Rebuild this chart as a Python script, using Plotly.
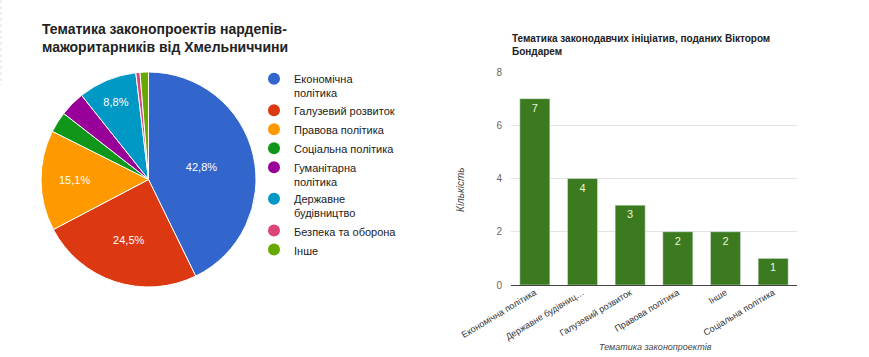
import plotly.graph_objects as go

# Pie data (counts)
pie_labels = ["Економічна<br>політика", "Галузевий розвиток", "Правова політика",
              "Соціальна політика", "Гуманітарна<br>політика", "Державне<br>будівництво",
              "Безпека та оборона", "Інше"]
pie_values = [68, 39, 24, 5, 6, 14, 1, 2]
pie_colors = ["#3366cc", "#dc3912", "#ff9900", "#109618", "#990099", "#0099c6", "#dd4477", "#66aa00"]
pie_show_label = [True, True, True, False, False, True, False, False]

# Bar data
bar_categories = ["Економічна політика", "Державне будівництво", "Галузевий розвиток",
                  "Правова політика", "Інше", "Соціальна політика"]
bar_ticklabels = ["Економічна політика", "Державне будівниц…", "Галузевий розвиток",
                  "Правова політика", "Інше", "Соціальна політика"]
bar_values = [7, 4, 3, 2, 2, 1]

W, H = 869, 357
FONT = "Arial, Liberation Sans, sans-serif"

def px(x):
    return x / W

def py(y):
    return (H - y) / H

fig = go.Figure()

fig.add_trace(go.Pie(
    labels=pie_labels, values=pie_values, sort=False, direction="clockwise",
    rotation=0,
    marker=dict(colors=pie_colors, line=dict(color="white", width=1)),
    texttemplate=["%{percent:.1%}" if s else "" for s in pie_show_label],
    textposition="inside", insidetextorientation="horizontal",
    textfont=dict(color="white", size=11, family=FONT),
    domain=dict(x=[px(41), px(256)], y=[py(287), py(72)]),
    showlegend=False, hoverinfo="label+percent", automargin=False,
))

fig.add_trace(go.Bar(
    x=bar_categories, y=bar_values, marker=dict(color="#3b7a1e"),
    text=[str(v) for v in bar_values], textposition="inside", insidetextanchor="end",
    textfont=dict(color="#e8f5dc", size=11, family=FONT),
    width=0.63, showlegend=False, xaxis="x", yaxis="y",
))

# legend entries with circle markers (on a hidden axis pair)
for lab, col in zip(pie_labels, pie_colors):
    fig.add_trace(go.Scatter(x=[None], y=[None], mode="markers", name=lab,
                             marker=dict(symbol="circle", size=10, color=col),
                             xaxis="x2", yaxis="y2", showlegend=True))

fig.update_layout(
    width=W, height=H, margin=dict(l=0, r=0, t=0, b=0, autoexpand=False),
    paper_bgcolor="white", plot_bgcolor="white",
    separators=", ",
    font=dict(family=FONT, color="#222"),
    xaxis=dict(domain=[px(511), px(797)], type="category",
               tickvals=bar_categories, ticktext=bar_ticklabels,
               tickangle=-31, tickfont=dict(size=9, color="#333"), showgrid=False,
               showline=True, linecolor="#444", linewidth=1, ticks="", fixedrange=True,
               automargin=False, ticklabelstandoff=-2),
    yaxis=dict(domain=[py(285), py(72)], range=[0, 8], tickvals=[0, 2, 4, 6, 8],
               tickfont=dict(size=10, color="#666"), showgrid=True, gridcolor="#e3e3e3",
               zeroline=False, showline=False, ticks="", ticklabelstandoff=8,
               automargin=False, fixedrange=True),
    xaxis2=dict(domain=[0, 0.01], visible=False, anchor="y2", automargin=False),
    yaxis2=dict(domain=[0, 0.01], visible=False, anchor="x2", automargin=False),
    legend=dict(x=px(254), y=py(65), xanchor="left", yanchor="top", valign="top",
                font=dict(size=11, color="#222", family=FONT), itemsizing="constant",
                tracegroupgap=0, bgcolor="rgba(0,0,0,0)"),
    annotations=[
        dict(text="<b>Тематика законопроектів нардепів-<br>мажоритарників від Хмельниччини</b>",
             x=px(40), y=py(19), xref="paper", yref="paper", xanchor="left", yanchor="top",
             showarrow=False, align="left", font=dict(size=14, color="#222", family=FONT)),
        dict(text="<b>Тематика законодавчих ініціатив, поданих Віктором<br>Бондарем</b>",
             x=px(510), y=py(31), xref="paper", yref="paper", xanchor="left", yanchor="top",
             showarrow=False, align="left", font=dict(size=10, color="#222", family=FONT)),
        dict(text="Кількість", x=px(460), y=py(190), xref="paper", yref="paper",
             xanchor="center", yanchor="middle", textangle=-90, showarrow=False,
             font=dict(size=10, color="#444", family=FONT, style="italic")),
        dict(text="Тематика законопроектів", x=px(655), y=py(347), xref="paper", yref="paper",
             xanchor="center", yanchor="middle", showarrow=False,
             font=dict(size=9, color="#444", family=FONT, style="italic")),
    ],
    shapes=[dict(type="line", xref="paper", yref="paper", x0=px(1), x1=px(1), y0=py(0), y1=py(85),
                 line=dict(color="#dde3cc", width=1, dash="dot"))],
)

fig.write_html("out.html", config={"displayModeBar": False},
               post_script="document.body.style.margin='0';document.body.style.padding='0';")
